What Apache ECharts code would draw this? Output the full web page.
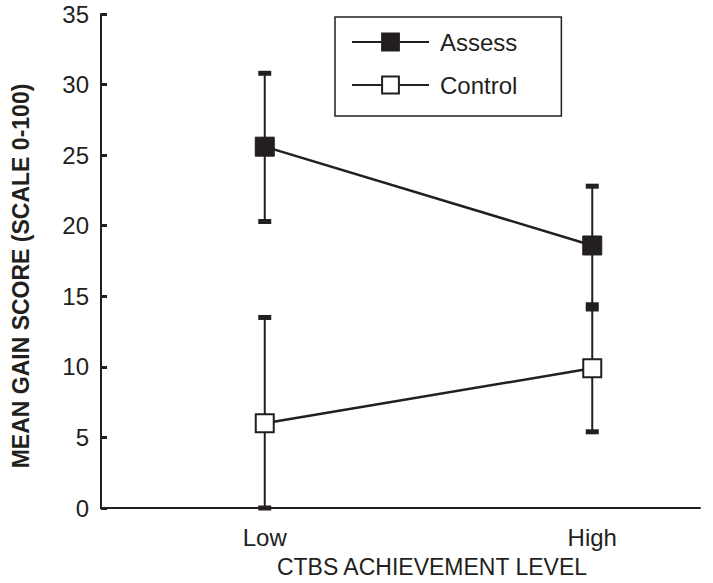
<!DOCTYPE html>
<html>
<head>
<meta charset="utf-8">
<script src="https://cdn.jsdelivr.net/npm/echarts@6/dist/echarts.min.js"></script>
<style>
  html, body { margin: 0; padding: 0; background: #ffffff; }
  #chart { width: 713px; height: 583px; }
</style>
</head>
<body>
<div id="chart"></div>
<script>
// Achievement levels and where they sit on the x scale
const categories = ['Low', 'High'];
const categoryPos = [1, 3];

// Mean gain scores with error-bar ends
const assessMean = [25.6, 18.6];
const assessLower = [20.3, 14.4];
const assessUpper = [30.8, 22.8];

const controlMean = [6.0, 9.9];
const controlLower = [0.0, 5.4];
const controlUpper = [13.5, 14.1];

const yTicks = [0, 5, 10, 15, 20, 25, 30, 35];

const INK = '#231f20';
const FONT = '"Liberation Sans", Arial, Helvetica, sans-serif';

function pairs(values) {
  return values.map((v, i) => [categoryPos[i], v]);
}
function errRows(lower, upper) {
  return lower.map((lo, i) => [categoryPos[i], lo, upper[i]]);
}

// Vertical whisker with short thick caps at both ends
function renderError(params, api) {
  const x = api.value(0);
  const lo = api.coord([x, api.value(1)]);
  const hi = api.coord([x, api.value(2)]);
  const capW = 13, capH = 5;
  return {
    type: 'group',
    children: [
      { type: 'line', shape: { x1: lo[0], y1: lo[1], x2: hi[0], y2: hi[1] },
        style: { stroke: INK, lineWidth: 2 } },
      { type: 'rect', shape: { x: hi[0] - capW / 2, y: hi[1] - capH / 2, width: capW, height: capH },
        style: { fill: INK } },
      { type: 'rect', shape: { x: lo[0] - capW / 2, y: lo[1] - capH / 2, width: capW, height: capH },
        style: { fill: INK } }
    ]
  };
}

const chart = echarts.init(document.getElementById('chart'), null, { renderer: 'svg' });

chart.setOption({
  backgroundColor: '#ffffff',
  animation: false,
  textStyle: { fontFamily: FONT, color: INK },
  grid: { left: 101, right: 13, top: 14, bottom: 75, containLabel: false, outerBoundsMode: 'none' },
  legend: {
    data: ['Assess', 'Control'],
    orient: 'vertical',
    left: 335,
    top: 17,
    borderColor: INK,
    borderWidth: 1.5,
    padding: [13, 44, 19, 16],
    itemWidth: 77,
    itemHeight: 21,
    itemGap: 19,
    textStyle: { fontFamily: FONT, fontSize: 24, color: INK, padding: [15, 0, 0, 6] }
  },
  xAxis: {
    type: 'value',
    min: 0,
    max: 3.658,
    interval: 1,
    splitLine: { show: false },
    axisTick: { show: false },
    axisLine: { lineStyle: { color: INK, width: 2 } },
    axisLabel: {
      showMaxLabel: false,
      margin: 17,
      fontSize: 24,
      fontFamily: FONT,
      color: INK,
      formatter: function (v) {
        const idx = categoryPos.indexOf(Math.round(v * 1000) / 1000);
        return idx >= 0 ? categories[idx] : '';
      }
    },
    name: 'CTBS ACHIEVEMENT LEVEL',
    nameLocation: 'middle',
    nameGap: 47,
    nameTextStyle: { fontFamily: FONT, fontSize: 23, lineHeight: 24, color: INK, padding: [0, 0, 0, 63] }
  },
  yAxis: {
    type: 'value',
    min: yTicks[0],
    max: yTicks[yTicks.length - 1],
    interval: yTicks[1] - yTicks[0],
    splitLine: { show: false },
    axisLine: { show: true, lineStyle: { color: INK, width: 2 } },
    axisTick: { show: true, inside: true, length: 6, lineStyle: { color: INK, width: 3 } },
    axisLabel: { margin: 12, fontSize: 24, fontFamily: FONT, color: INK },
    name: 'MEAN GAIN SCORE (SCALE 0-100)',
    nameLocation: 'middle',
    nameRotate: 90,
    nameGap: 69,
    nameTextStyle: { fontFamily: FONT, fontSize: 23, fontWeight: 'bold', color: INK, padding: [0, 30, 0, 0] }
  },
  series: [
    {
      name: 'Assess-err',
      type: 'custom',
      renderItem: renderError,
      data: errRows(assessLower, assessUpper),
      encode: { x: 0, y: [1, 2] },
      z: 1
    },
    {
      name: 'Control-err',
      type: 'custom',
      renderItem: renderError,
      data: errRows(controlLower, controlUpper),
      encode: { x: 0, y: [1, 2] },
      z: 1
    },
    {
      name: 'Assess',
      type: 'line',
      data: pairs(assessMean),
      symbol: 'rect',
      symbolSize: 19,
      lineStyle: { color: INK, width: 2.5 },
      itemStyle: { color: INK, borderColor: INK, borderWidth: 1 },
      z: 3
    },
    {
      name: 'Control',
      type: 'line',
      data: pairs(controlMean),
      symbol: 'rect',
      symbolSize: 18,
      lineStyle: { color: INK, width: 2.5 },
      itemStyle: { color: '#ffffff', borderColor: INK, borderWidth: 2 },
      z: 3
    }
  ]
});
</script>
</body>
</html>
